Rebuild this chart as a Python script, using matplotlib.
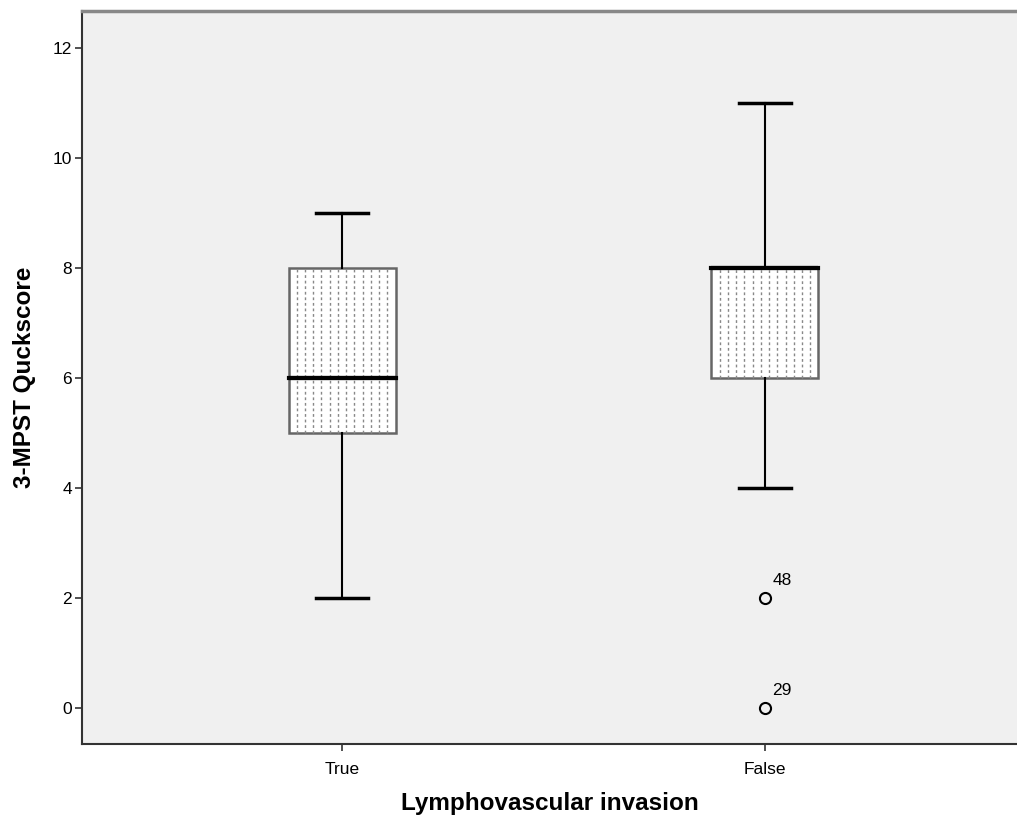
import matplotlib
matplotlib.use("Agg")
import matplotlib.pyplot as plt
import numpy as np

# box plot summary values
groups = ["True", "False"]
whisker_low = [2, 4]
q1 = [5, 6]
median = [6, 8]
q3 = [8, 8]
whisker_high = [9, 11]
outlier_vals = [[], [2, 0]]
outlier_ids = [[], ["48", "29"]]

plt.rcParams['font.family'] = ['Liberation Sans', 'DejaVu Sans']

fig = plt.figure(figsize=(10.17, 8.23), dpi=100)
ax = fig.add_axes([0.0806, 0.096, 0.9194, 0.8906])
ax.set_facecolor("#f0f0f0")

stats = []
for i, g in enumerate(groups):
    stats.append(dict(label=g, whislo=whisker_low[i], q1=q1[i], med=median[i],
                      q3=q3[i], whishi=whisker_high[i], fliers=outlier_vals[i]))

pos = np.arange(1, len(groups) + 1)
bw = 0.253
bp = ax.bxp(stats, positions=pos, widths=bw, patch_artist=True,
            boxprops=dict(facecolor="white", edgecolor="#666666", linewidth=1.8),
            medianprops=dict(color="black", linewidth=3),
            whiskerprops=dict(color="black", linewidth=1.5),
            capprops=dict(color="black", linewidth=2.5),
            capwidths=0.125,
            flierprops=dict(marker="o", markersize=8, markerfacecolor="none",
                            markeredgecolor="black", markeredgewidth=1.5))

# dotted vertical fill pattern inside boxes
for i, p in enumerate(pos):
    xs = np.linspace(p - bw / 2, p + bw / 2, 14)[1:-1]
    ax.vlines(xs, q1[i], q3[i], colors="#888888", linestyles=(0, (2, 2)),
              linewidth=1, zorder=2.5)
    # redraw median above the pattern
    ax.plot([p - bw / 2, p + bw / 2], [median[i], median[i]], color="black",
            linewidth=3, zorder=3)

for i, p in enumerate(pos):
    for v, lab in zip(outlier_vals[i], outlier_ids[i]):
        ax.annotate(lab, (p, v), xytext=(5.5, 9), textcoords="offset points",
                    fontsize=12.5)

ax.set_xlim(0.385, 2.596)
ax.set_ylim(-0.655, 12.67)
ax.set_yticks(range(0, 13, 2))
ax.set_xticks(pos)
ax.set_xticklabels(groups)
ax.tick_params(direction="out", length=5, width=1.2, labelsize=12.5, color="#333333")
ax.tick_params(axis="x", pad=8)
ax.tick_params(axis="y", pad=2)

ax.spines["right"].set_visible(False)
ax.spines["top"].set_color("#888888")
ax.spines["top"].set_linewidth(2.5)
ax.spines["left"].set_color("#333333")
ax.spines["bottom"].set_color("#333333")
ax.spines["left"].set_linewidth(1.5)
ax.spines["bottom"].set_linewidth(1.5)

ax.set_xlabel("Lymphovascular invasion", fontsize=17.5, fontweight="bold", labelpad=11)
ax.set_ylabel("3-MPST Quckscore", fontsize=17.5, fontweight="bold", labelpad=12)

fig.savefig("out.png", dpi=100)
